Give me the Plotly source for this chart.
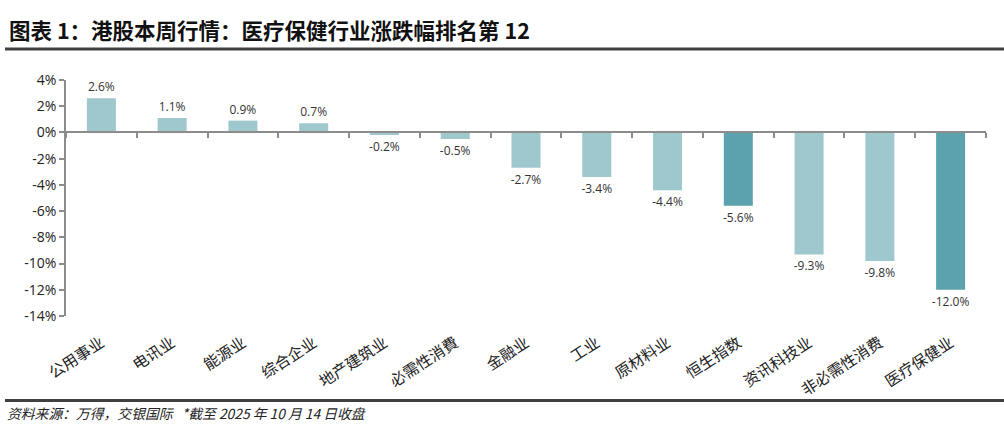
import plotly.graph_objects as go

categories = ["公用事业", "电讯业", "能源业", "综合企业", "地产建筑业", "必需性消費", "金融业",
              "工业", "原材料业", "恒生指数", "资讯科技业", "非必需性消费", "医疗保健业"]
values = [2.6, 1.1, 0.9, 0.7, -0.2, -0.5, -2.7, -3.4, -4.4, -5.6, -9.3, -9.8, -12.0]
highlight = ["恒生指数", "医疗保健业"]
value_labels = [f"{v:.1f}%" for v in values]
ytick_vals = [4, 2, 0, -2, -4, -6, -8, -10, -12, -14]

LIGHT = "#9FC7CE"
DARK = "#5BA2AE"
colors = [DARK if c in highlight else LIGHT for c in categories]

W, H = 1004, 435
L, R, T, B = 66, 18, 80, 119
PW, PH = W - L - R, H - T - B

def px_x(x):  # page x -> paper fraction
    return (x - L) / PW

def px_y(y):  # page y -> paper fraction
    return (H - B - y) / PH

y_min, y_max = -14, 4
n = len(categories)

fig = go.Figure()
fig.add_trace(go.Bar(
    x=categories, y=values, marker_color=colors, marker_line_width=0,
    width=0.41, text=value_labels, textposition="outside", constraintext="none",
    textfont=dict(size=12, color="#333333", family="Open Sans"),
    cliponaxis=False, hoverinfo="skip", showlegend=False,
))
# invisible helper trace for the zero-line category axis
fig.add_trace(go.Scatter(
    x=categories, y=[0] * n, xaxis="x2", mode="markers",
    marker=dict(opacity=0), hoverinfo="skip", showlegend=False,
))

zero_pos = (0 - y_min) / (y_max - y_min)

fig.update_layout(
    width=W, height=H,
    margin=dict(l=L, r=R, t=T, b=B),
    plot_bgcolor="white", paper_bgcolor="white",
    xaxis=dict(
        type="category", range=[-0.5, n - 0.5], autorange=False,
        showline=False, showgrid=False, zeroline=False,
        tickangle=-33, ticks="outside", ticklen=11, tickcolor="rgba(0,0,0,0)",
        tickfont=dict(size=15.5, family="Noto Sans CJK SC", color="#222222"),
    ),
    xaxis2=dict(
        type="category", overlaying="x", matches="x", anchor="free", position=zero_pos,
        side="bottom",
        showline=True, linecolor="#8c8c8c", linewidth=1.5,
        ticks="outside", tickson="boundaries", ticklen=5, tickcolor="#8c8c8c", tickwidth=1.5,
        showticklabels=False, showgrid=False, zeroline=False,
    ),
    yaxis=dict(
        range=[y_min, y_max], tickvals=ytick_vals, ticktext=[f"{v}%" for v in ytick_vals],
        showline=True, linecolor="#8c8c8c", linewidth=1.5,
        ticks="outside", ticklen=5, tickcolor="#8c8c8c", tickwidth=1.5,
        showgrid=False, zeroline=False,
        tickfont=dict(size=14, family="Open Sans", color="#222222"),
    ),
    shapes=[
        dict(type="line", xref="paper", yref="paper", x0=px_x(5), x1=px_x(W),
             y0=px_y(49), y1=px_y(49), line=dict(color="#404040", width=3)),
        dict(type="line", xref="paper", yref="paper", x0=px_x(5), x1=px_x(W),
             y0=px_y(400.5), y1=px_y(400.5), line=dict(color="#404040", width=3)),
    ],
    annotations=[
        dict(text="<b>图表 1：港股本周行情：医疗保健行业涨跌幅排名第 12</b>",
             xref="paper", yref="paper", x=px_x(7), y=px_y(30),
             xanchor="left", yanchor="middle", showarrow=False,
             font=dict(size=21.5, family="Noto Sans CJK SC", color="#111111")),
        dict(text="<i>资料来源：万得，交银国际   *截至 2025 年 10 月 14 日收盘</i>",
             xref="paper", yref="paper", x=px_x(5), y=px_y(413),
             xanchor="left", yanchor="middle", showarrow=False,
             font=dict(size=13.8, family="Noto Sans CJK SC", color="#222222")),
    ],
)

fig.write_html("out.html", config={"displayModeBar": False},
               post_script="document.body.style.margin='0';")
